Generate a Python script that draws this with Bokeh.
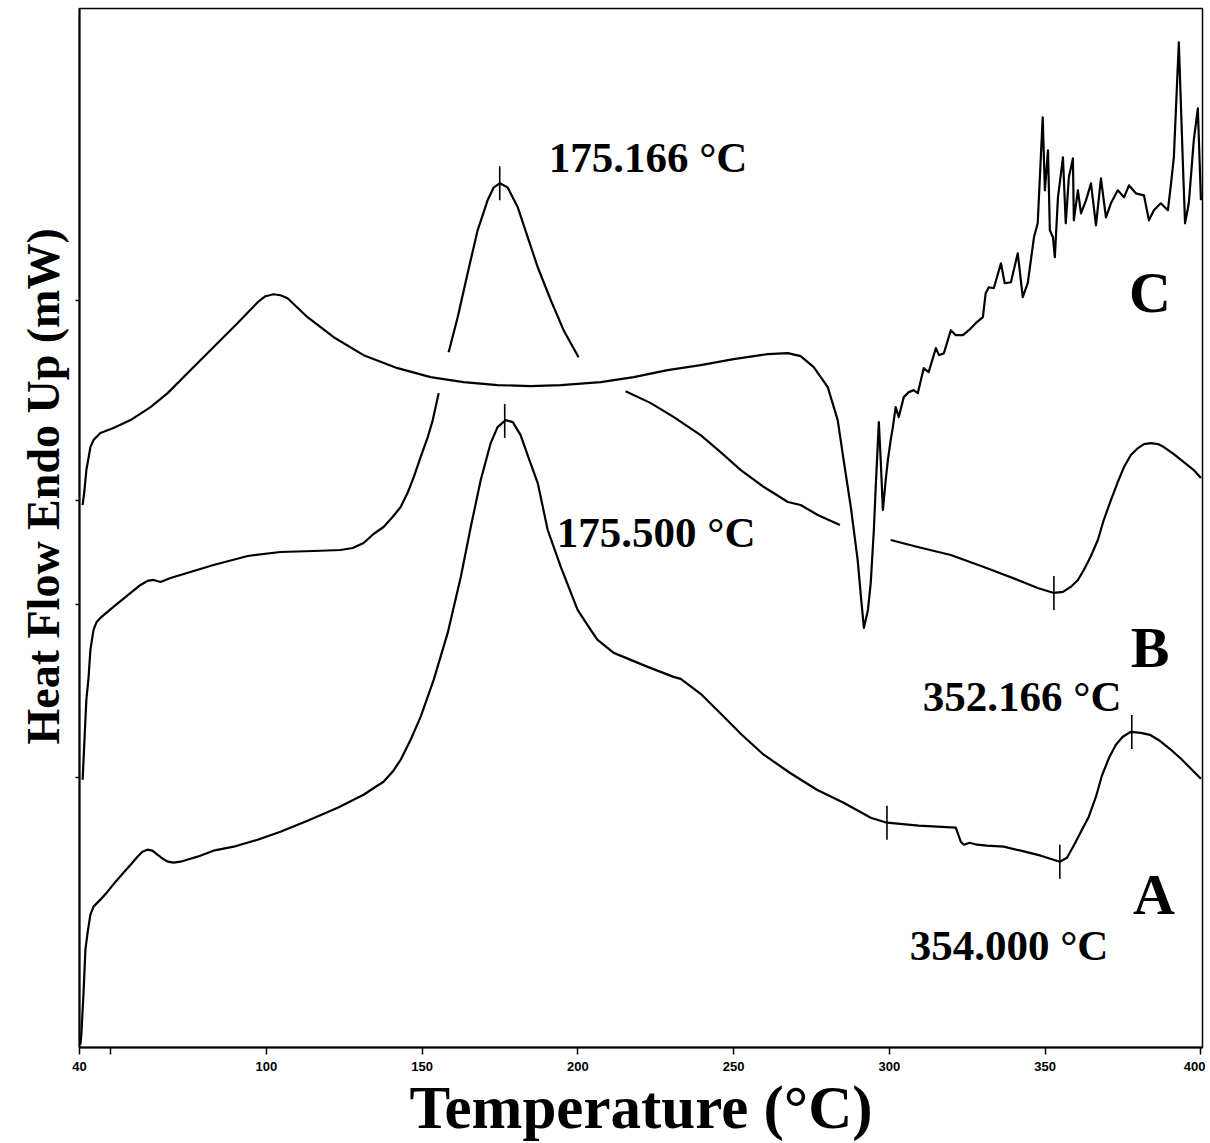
import numpy as np
from bokeh.plotting import figure
from bokeh.models import Range1d, FixedTicker, Label, Title
from bokeh.embed import file_html
from bokeh.resources import INLINE

nan = float("nan")

# ---- axis ticks ----
x_ticks = [40, 100, 150, 200, 250, 300, 350, 400]
x_minor_ticks = [50]
y_ticks = [27.0, 44.3, 54.8, 74.8]

# ---- curve A ----
A_T = [40.3, 40.6, 41.3, 41.9, 42.6, 43.5, 44.5, 46.7, 49.0, 51.6, 54.1, 56.4, 58.6, 60.2, 61.8,
       63.4, 65.0, 66.7, 68.3, 70.2, 72.4, 75.6, 77.9, 83.0, 89.5, 97.2, 104.5, 113.2, 122.9,
       131.2, 135.1, 137.6, 140.5, 143.1, 146.3, 149.5, 153.7, 158.2, 162.4, 165.6, 168.8,
       172.0, 174.2, 176.8, 179.1, 181.6, 184.2, 187.1, 190.3, 194.5, 199.9, 204.1, 206.3,
       211.5, 222.4, 230.7, 233.0, 239.4, 246.2, 252.6, 259.3, 268.0, 276.7, 285.3, 294.0,
       299.2, 309.4, 321.3, 322.9, 323.9, 325.8, 328.1, 331.3, 336.7, 342.2, 348.6, 354.7,
       357.0, 359.5, 361.8, 364.0, 366.3, 368.2, 370.5, 372.7, 374.9, 377.5, 380.7, 383.6,
       386.8, 390.0, 393.6, 396.8, 400.0]
A_v = [0.3, 1.3, 5.5, 9.8, 11.5, 13.3, 14.1, 14.8, 15.6, 16.6, 17.5, 18.3, 19.1, 19.6, 19.8,
       19.7, 19.3, 18.9, 18.6, 18.5, 18.6, 18.9, 19.1, 19.7, 20.1, 20.8, 21.6, 22.7, 24.0,
       25.3, 26.1, 26.6, 27.6, 28.8, 30.8, 33.1, 36.8, 41.5, 47.1, 52.1, 56.8,
       60.5, 62.1, 62.8, 62.6, 61.3, 59.0, 56.5, 51.8, 48.1, 43.8, 41.8, 40.8,
       39.5, 38.1, 37.1, 36.9, 35.4, 33.3, 31.3, 29.4, 27.5, 25.8, 24.5, 23.0,
       22.5, 22.2, 22.0, 20.6, 20.3, 20.5, 20.3, 20.2, 20.1, 19.7, 19.2, 18.6,
       19.0, 20.4, 21.8, 23.1, 25.1, 27.2, 29.0, 30.3, 31.1, 31.6, 31.5, 31.3,
       30.7, 29.9, 28.9, 27.9, 26.9]

# ---- curve B (gaps where it passes behind curve C) ----
B_T = [41.0, 41.6, 42.2, 42.9, 43.5, 44.5, 45.5, 46.7, 50.9, 56.4, 59.6, 61.8, 63.8, 66.0, 69.2,
       72.4, 83.0, 94.0, 104.5, 115.1, 123.8, 127.7, 131.2, 134.4, 137.6, 140.5, 143.1, 145.3,
       147.3, 149.5, 151.8, 153.4, 155.3, nan,
       158.5, 161.4, 164.6, 167.8, 171.0, 173.0, 174.9, 177.4, 180.7, 183.9, 187.1, 191.3,
       195.4, 200.2, nan,
       215.3, 223.4, 230.8, 239.4, 245.8, 252.3, 259.7, 267.4, 271.5, 277.0, 284.1, nan,
       300.4, 309.1, 319.7, 330.3, 341.2, 347.6, 352.8, 355.7, 358.2, 360.5, 362.4, 364.7,
       366.9, 368.8, 371.1, 373.3, 375.3, 377.5, 379.8, 381.7, 383.9, 386.2, 388.1, 391.3,
       394.5, 397.7, 400.0]
B_v = [26.8, 30.8, 34.8, 37.0, 39.8, 41.8, 42.6, 43.0, 44.1, 45.5, 46.3, 46.7, 46.8, 46.6, 47.0,
       47.3, 48.3, 49.2, 49.6, 49.7, 49.8, 50.0, 50.5, 51.4, 52.1, 53.1, 54.1, 55.5,
       57.1, 59.1, 61.1, 62.8, 65.5, nan,
       69.6, 73.1, 77.5, 81.8, 84.8, 86.1, 86.5, 86.1, 84.1, 81.1, 78.1, 74.8,
       71.8, 69.1, nan,
       65.7, 64.5, 63.1, 61.3, 59.6, 57.8, 56.1, 54.6, 54.3, 53.3, 52.3, nan,
       50.8, 50.1, 49.3, 48.1, 46.8, 46.0, 45.5, 45.6, 46.1, 46.8, 47.8, 49.2,
       50.8, 52.8, 54.8, 56.6, 58.1, 59.3, 60.0, 60.4, 60.5, 60.4, 60.1, 59.4,
       58.6, 57.8, 57.0]

# ---- curve C ----
C_T = [41.0, 41.6, 42.2, 42.9, 43.5, 44.5, 46.7, 50.9, 56.4, 62.8, 68.3, 75.6, 83.0, 90.7, 97.2,
       99.7, 102.3, 104.5, 106.8, 113.2, 121.6, 131.2, 142.1, 152.7, 163.3, 174.2, 184.8,
       194.5, 207.3, 217.9, 228.8, 239.4, 250.0, 260.9, 267.4, 271.5, 275.7, 280.2, 283.4,
       285.3, 287.6, 289.8, 290.8, 291.8, 293.1, 294.0, 295.0, 295.6, 296.6, 297.2, 297.9,
       298.8, 299.5, 300.4, 301.1, 302.0, 303.0, 304.6, 306.2, 307.8, 309.1, 311.0, 312.6,
       314.9, 315.9, 317.5, 319.7, 321.3, 323.6, 325.5, 327.7, 330.0, 330.9, 331.9, 333.5,
       335.8, 337.0, 339.0, 341.2, 342.8, 344.4, 346.4, 347.6, 349.2, 349.9, 350.9, 351.5,
       352.5, 353.1, 354.1, 355.7, 356.6, 357.6, 358.9, 359.2, 360.5, 361.5, 363.1, 364.7,
       366.3, 367.9, 369.5, 371.1, 373.3, 375.3, 376.9, 379.1, 381.7, 383.3, 384.9, 387.1,
       389.4, 390.4, 391.3, 392.9, 394.2, 394.9, 396.1, 397.7, 399.0, 400.0]
C_v = [54.3, 55.8, 57.8, 59.0, 60.1, 60.8, 61.5, 62.0, 62.8, 64.1, 65.5, 67.8, 70.1, 72.5, 74.6,
       75.2, 75.4, 75.3, 75.0, 73.1, 71.1, 69.3, 68.0, 67.1, 66.6, 66.3, 66.2,
       66.3, 66.6, 67.1, 67.8, 68.3, 68.9, 69.4, 69.5, 69.2, 68.1, 66.1, 62.8,
       58.8, 54.1, 48.8, 45.3, 42.0, 43.8, 46.5, 51.8, 56.1, 62.6, 58.8, 53.8,
       56.8, 58.8, 60.8, 62.1, 64.1, 63.1, 65.1, 65.6, 65.8, 65.5, 68.0, 67.6,
       70.0, 69.3, 69.5, 71.8, 71.3, 71.3, 71.8, 72.5, 73.1, 75.5, 76.1, 76.0,
       78.5, 76.5, 76.6, 79.5, 75.1, 76.5, 81.1, 82.5, 93.1, 85.8, 89.8, 81.8,
       81.1, 79.1, 85.1, 89.1, 82.5, 87.1, 89.0, 82.8, 85.8, 83.5, 84.8, 86.5,
       82.3, 87.0, 83.1, 84.5, 85.8, 85.1, 86.3, 85.5, 85.3, 82.8, 83.8, 84.5,
       83.8, 86.5, 89.1, 100.6, 88.5, 82.5, 84.5, 90.8, 94.0, 84.8]

# ---- peak markers (temperatures where the vertical tick marks sit) ----
A_mark_T = [176.5, 299.2, 354.7, 377.8]
B_mark_T = [174.9, 352.8]
C_mark_T = []

SERIF = "Liberation Serif"

p = figure(width=1205, height=1143,
           x_range=Range1d(40, 400.5), y_range=Range1d(0, 104),
           output_backend="svg", toolbar_location=None,
           min_border_left=79, min_border_right=3, min_border_top=8, min_border_bottom=95)

p.background_fill_color = "white"
p.border_fill_color = "white"
p.grid.visible = False
p.outline_line_color = "black"
p.outline_line_width = 1.5

# x axis
p.xaxis.ticker = FixedTicker(ticks=x_ticks, minor_ticks=x_minor_ticks)
p.xaxis.axis_line_width = 2
p.xaxis.major_tick_line_width = 1.5
p.xaxis.minor_tick_line_width = 1.5
p.xaxis.major_tick_out = 7
p.xaxis.major_tick_in = 0
p.xaxis.minor_tick_out = 7
p.xaxis.minor_tick_in = 0
p.xaxis.major_label_text_font = "Liberation Sans"
p.xaxis.major_label_text_font_style = "bold"
p.xaxis.major_label_text_font_size = "13px"
p.xaxis.major_label_text_color = "black"
p.xaxis.major_label_standoff = 7
p.xaxis.axis_label = "Temperature (°C)"
p.xaxis.axis_label_text_font = SERIF
p.xaxis.axis_label_text_font_style = "bold"
p.xaxis.axis_label_text_font_size = "61px"
p.xaxis.axis_label_text_color = "black"
p.xaxis.axis_label_standoff = 0

# y axis (unlabelled ticks only)
p.yaxis.ticker = FixedTicker(ticks=[], minor_ticks=y_ticks)
p.yaxis.axis_line_width = 2
p.yaxis.minor_tick_out = 4
p.yaxis.minor_tick_in = 0
p.yaxis.minor_tick_line_width = 1.5

# y-axis title, placed beside the axis
p.add_layout(Title(text="Heat Flow Endo Up (mW)", align="left", offset=303,
                   text_font=SERIF, text_font_style="bold", text_font_size="46px",
                   text_color="black", standoff=14), "left")


def draw(T, v, marks):
    T = np.array(T, dtype=float)
    v = np.array(v, dtype=float)
    p.line(T, v, line_color="black", line_width=2.2, line_join="round")
    if len(marks):
        ok = ~np.isnan(T)
        mv = np.interp(marks, T[ok], v[ok])
        p.segment(x0=marks, y0=mv - 1.7, x1=marks, y1=mv + 1.7,
                  line_color="black", line_width=1.6)


draw(A_T, A_v, A_mark_T)
draw(B_T, B_v, B_mark_T)
draw(C_T, C_v, C_mark_T)


def lab(text, x, y, size):
    p.add_layout(Label(x=x, y=y, text=text, text_font=SERIF, text_font_style="bold",
                       text_font_size=size, text_color="black", text_align="left",
                       text_baseline="alphabetic"))


lab("175.166 °C", 190.6, 89.1, "43px")
lab("175.500 °C", 193.2, 51.5, "43px")
lab("352.166 °C", 310.7, 35.1, "43px")
lab("354.000 °C", 306.5, 10.2, "43px")
lab("C", 376.9, 75.6, "58px")
lab("B", 377.5, 40.0, "58px")
lab("A", 378.2, 15.3, "58px")

open("out.html", "w").write(file_html(p, INLINE))
